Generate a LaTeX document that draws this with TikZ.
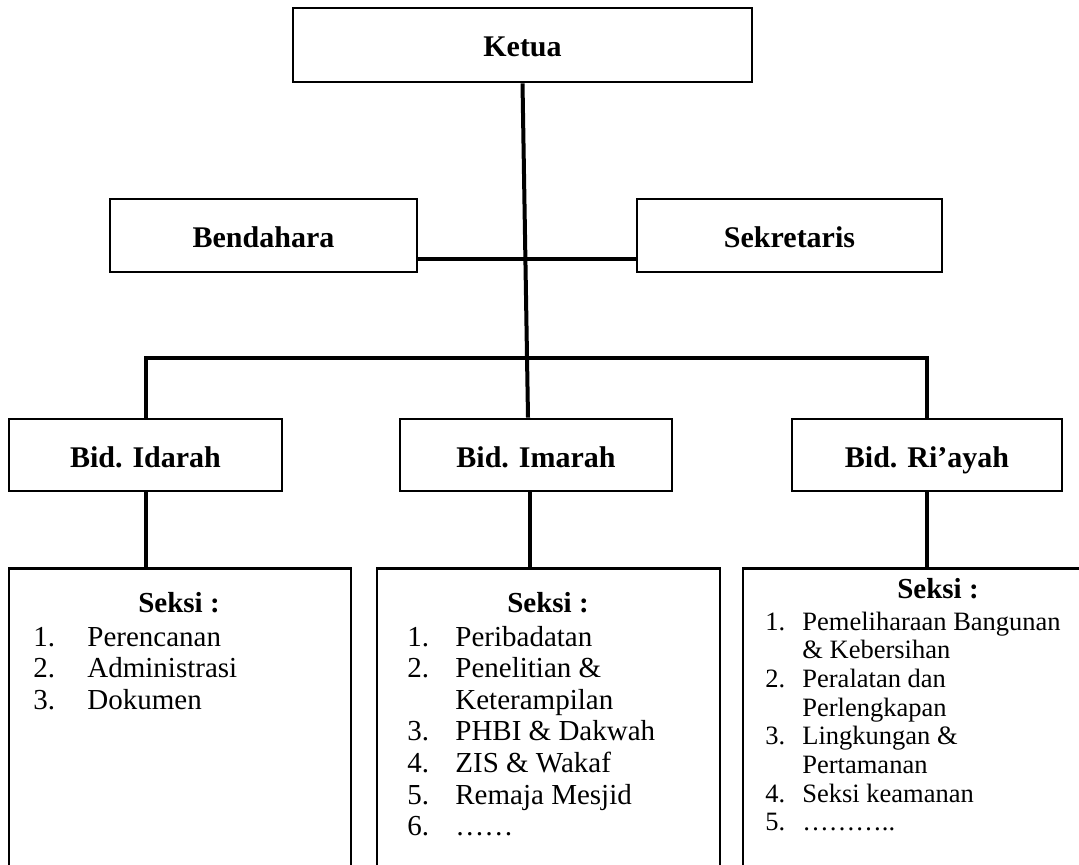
\documentclass[tikz,border=0pt]{standalone}
\usepackage{fontspec}
\setmainfont{Liberation Serif}
\begin{document}
\begin{tikzpicture}[x=0.5pt,y=-0.5pt,
  box/.style={draw, line width=1.3pt, inner sep=0pt, text height=12pt, text depth=0pt, font=\bfseries\fontsize{15}{17}\selectfont},
  seksibox/.style={draw, line width=1.3pt, inner sep=0pt, minimum height=200pt, anchor=north},
  conn/.style={line width=2pt},
  title/.style={inner sep=0pt, anchor=base, font=\bfseries\fontsize{14.5}{17}\selectfont},
  listA/.style={inner sep=0pt, anchor=base west, font=\fontsize{14.5}{15.8}\selectfont},
  listB/.style={inner sep=0pt, anchor=base west, font=\fontsize{13.25}{14.35}\selectfont}]
\useasboundingbox (0,0) rectangle (1079,865);
\clip (0,0) rectangle (1079,865);

% boxes
\node[box, minimum width=229.5pt, minimum height=37pt] (ketua) at (522.5,45) {Ketua};
\node[box, minimum width=153.5pt, minimum height=36.5pt] (bend) at (263.5,235.5) {Bendahara};
\node[box, minimum width=152.5pt, minimum height=36.5pt] (sekr) at (789.5,235.5) {Sekretaris};
\node[box, minimum width=136.5pt, minimum height=36pt] (idarah) at (145.5,455) {Bid. Idarah};
\node[box, minimum width=136pt, minimum height=36pt] (imarah) at (536,455) {Bid. Imarah};
\node[box, minimum width=135pt, minimum height=36pt] (riayah) at (927,455) {Bid. Ri’ayah};

\node[seksibox, minimum width=171pt] (sL) at (180,567) {};
\node[seksibox, minimum width=171.5pt] (sM) at (548.5,567) {};
\node[seksibox, minimum width=178.5pt] (sR) at (921.5,567) {};

% connectors
\draw[conn] (ketua.south) -- ([xshift=-4pt]imarah.north);
\draw[line width=2.2pt] ([yshift=-11.75pt]bend.east) -- ([yshift=-11.75pt]sekr.west);
\coordinate (bus) at (528,358);
\draw[conn] (idarah.north) -- (idarah.north |- bus) -- (riayah.north |- bus) -- (riayah.north);
\draw[conn] (idarah.south) -- (idarah.south |- sL.north);
\draw[conn] ([xshift=-3pt]imarah.south) -- ([xshift=-3pt]imarah.south |- sM.north);
\draw[conn] (riayah.south) -- (riayah.south |- sR.north);

% texts
\node[title] (tL) at (179,612) {Seksi :};
\node[listA] (lL) at (33,646) {\begin{tabular}[t]{@{}p{27pt}@{}l@{}}
1. & Perencanan\\
2. & Administrasi\\
3. & Dokumen
\end{tabular}};

\node[title] (tM) at (548,612) {Seksi :};
\node[listA] (lM) at (407,646) {\begin{tabular}[t]{@{}p{24pt}@{}l@{}}
1. & Peribadatan\\
2. & Penelitian \&\\
   & Keterampilan\\
3. & PHBI \& Dakwah\\
4. & ZIS \& Wakaf\\
5. & Remaja Mesjid\\
6. & ……
\end{tabular}};

\node[title] (tR) at (938,598) {Seksi :};
\node[listB] (lR) at (765,630) {\begin{tabular}[t]{@{}p{18.5pt}@{}l@{}}
1. & Pemeliharaan Bangunan\\
   & \& Kebersihan\\
2. & Peralatan dan\\
   & Perlengkapan\\
3. & Lingkungan \&\\
   & Pertamanan\\
4. & Seksi keamanan\\
5. & ………..
\end{tabular}};
\end{tikzpicture}
\end{document}
